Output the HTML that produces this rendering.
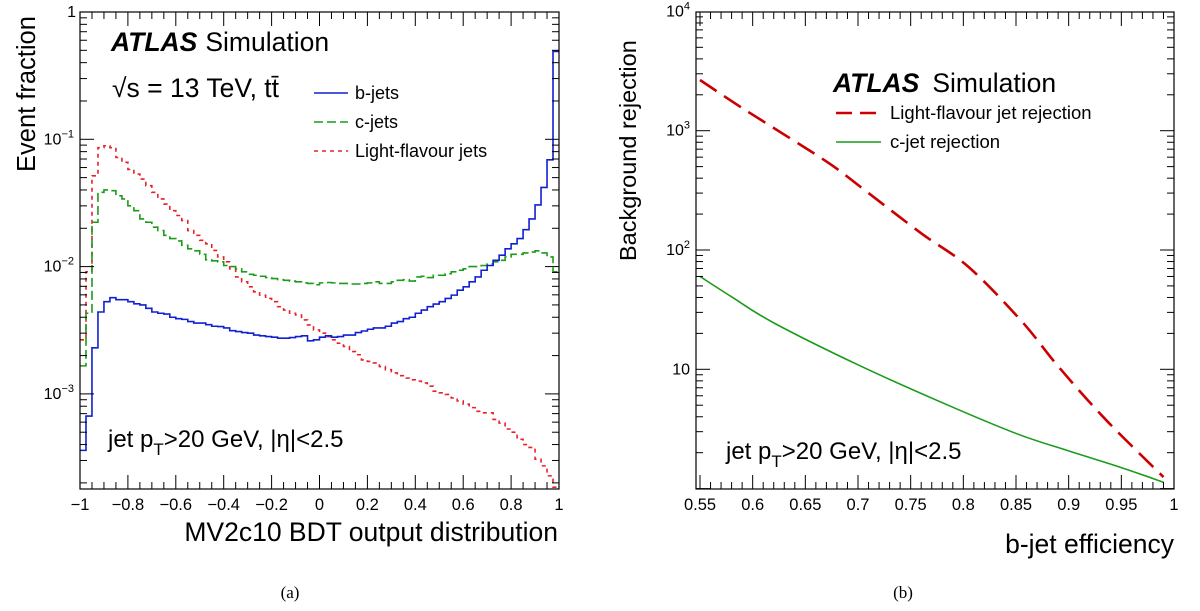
<!DOCTYPE html>
<html><head><meta charset="utf-8"><style>
body{margin:0;background:#fff}
svg{display:block;font-family:"Liberation Sans",sans-serif}
</style></head><body>
<svg id="s" width="1200" height="611" viewBox="0 0 1200 611">
<g id="L"></g>
<g id="R"></g>
</svg>
<script>
// Left: 80 bins from -1 to 1
const binLo = -1, binW = 0.025;
const bJets = [3.6e-4,6.7e-4,2.3e-3,4.4e-3,5.3e-3,5.7e-3,5.5e-3,5.5e-3,5.3e-3,5.1e-3,5.0e-3,4.7e-3,4.4e-3,4.3e-3,4.24e-3,4.0e-3,3.9e-3,3.85e-3,3.7e-3,3.6e-3,3.6e-3,3.5e-3,3.4e-3,3.38e-3,3.3e-3,3.14e-3,3.09e-3,3.03e-3,3.0e-3,2.9e-3,2.86e-3,2.82e-3,2.79e-3,2.74e-3,2.74e-3,2.77e-3,2.82e-3,2.86e-3,2.61e-3,2.66e-3,2.79e-3,2.86e-3,2.79e-3,2.82e-3,2.9e-3,2.9e-3,3.03e-3,3.12e-3,3.22e-3,3.3e-3,3.3e-3,3.4e-3,3.6e-3,3.7e-3,3.9e-3,4.0e-3,4.3e-3,4.56e-3,4.84e-3,5.08e-3,5.3e-3,5.62e-3,5.97e-3,6.53e-3,6.94e-3,7.59e-3,8.3e-3,9.36e-3,1.02e-2,1.12e-2,1.23e-2,1.38e-2,1.51e-2,1.66e-2,1.95e-2,2.37e-2,3.05e-2,4.19e-2,6.9e-2,0.49];
const cJets = [1.66e-3,4.3e-3,2.23e-2,3.83e-2,4.0e-2,3.95e-2,3.6e-2,3.4e-2,3.0e-2,2.75e-2,2.37e-2,2.23e-2,2.04e-2,1.92e-2,1.76e-2,1.66e-2,1.59e-2,1.47e-2,1.38e-2,1.33e-2,1.25e-2,1.13e-2,1.11e-2,1.09e-2,1.02e-2,1.0e-2,9.6e-3,9.1e-3,8.7e-3,8.55e-3,8.4e-3,8.2e-3,8.05e-3,7.9e-3,7.8e-3,7.7e-3,7.6e-3,7.45e-3,7.37e-3,7.2e-3,7.45e-3,7.5e-3,7.45e-3,7.37e-3,7.37e-3,7.3e-3,7.3e-3,7.37e-3,7.45e-3,7.6e-3,7.37e-3,7.37e-3,7.6e-3,7.8e-3,7.9e-3,7.7e-3,8.3e-3,8.4e-3,8.2e-3,8.55e-3,8.55e-3,8.8e-3,9.1e-3,9.36e-3,9.6e-3,1.0e-2,1.0e-2,1.02e-2,1.05e-2,1.09e-2,1.12e-2,1.19e-2,1.25e-2,1.25e-2,1.28e-2,1.3e-2,1.33e-2,1.28e-2,1.19e-2,9.1e-3];
const lightJets = [2.66e-3,9.1e-3,5.17e-2,8.6e-2,8.9e-2,8.6e-2,7.2e-2,6.6e-2,5.8e-2,5.33e-2,4.87e-2,4.32e-2,3.83e-2,3.4e-2,3.1e-2,2.75e-2,2.52e-2,2.3e-2,1.92e-2,1.76e-2,1.61e-2,1.51e-2,1.34e-2,1.19e-2,1.09e-2,9.6e-3,8.3e-3,7.6e-3,6.94e-3,6.34e-3,5.97e-3,5.62e-3,5.3e-3,4.84e-3,4.56e-3,4.3e-3,4.17e-3,3.81e-3,3.48e-3,3.18e-3,3.0e-3,2.82e-3,2.66e-3,2.5e-3,2.36e-3,2.15e-3,2.03e-3,1.85e-3,1.8e-3,1.75e-3,1.64e-3,1.55e-3,1.46e-3,1.39e-3,1.33e-3,1.29e-3,1.26e-3,1.22e-3,1.15e-3,1.05e-3,1.02e-3,9.9e-4,9.3e-4,8.8e-4,8.3e-4,7.8e-4,7.3e-4,7.1e-4,7.1e-4,6.3e-4,5.9e-4,5.3e-4,5.0e-4,4.4e-4,4.0e-4,3.8e-4,3.07e-4,2.72e-4,2.27e-4,1.85e-4];
const leftXTicks = ["−1","−0.8","−0.6","−0.4","−0.2","0","0.2","0.4","0.6","0.8","1"];
// Right
const lightEffs = [0.55,0.59,0.635,0.675,0.71,0.76,0.805,0.855,0.89,0.935,0.99];
const lightRej = [2660,1550,870,515,300,138,72,25.5,10.6,3.8,1.25];
const cEffs = [0.55,0.58,0.62,0.70,0.78,0.85,0.90,0.95,0.99];
const cRej = [60,40.5,24.5,10.9,5.25,2.9,2.07,1.5,1.13];
const rightXTicks = ["0.55","0.6","0.65","0.7","0.75","0.8","0.85","0.9","0.95","1"];

const NS="http://www.w3.org/2000/svg";
function mk(p,tag,at,txt){const e=document.createElementNS(NS,tag);for(const k in at)e.setAttribute(k,at[k]);if(txt!==undefined)e.textContent=txt;p.appendChild(e);return e;}

// ---- Left panel
const L=document.getElementById('L');
const lx0=80,lx1=559,ly0=12,ly1=489,lDec=127.3;
const lX=v=>lx0+(v+1)/2*(lx1-lx0);
const lY=v=>ly0+(0-Math.log10(v))*lDec;
function hist(arr,col,dash,name){
  let d='';
  for(let i=0;i<arr.length;i++){const xa=lX(binLo+i*binW),xb=lX(binLo+(i+1)*binW),y=Math.min(ly1,lY(arr[i]));d+=(i===0?'M':'L')+xa+' '+y+'L'+xb+' '+y;}
  const p=mk(L,'path',{d:d,fill:'none',stroke:col,'stroke-width':1.6,'stroke-dasharray':dash});
  
  
}
hist(lightJets,'#e8202a','4 4','light-jets-histogram');
hist(cJets,'#1a9c1a','9 4','c-jets-histogram');
hist(bJets,'#1020d0','none','b-jets-histogram');
const lf=mk(L,'rect',{x:lx0,y:ly0,width:lx1-lx0,height:ly1-ly0,fill:'none',stroke:'#000','stroke-width':1.2});


for(let k=0;k<=40;k++){const v=-1+k*0.05,x=lX(v),big=k%4===0,len=big?14:7;
  mk(L,'line',{x1:x,y1:ly1,x2:x,y2:ly1-len,stroke:'#000'});mk(L,'line',{x1:x,y1:ly0,x2:x,y2:ly0+len,stroke:'#000'});}
leftXTicks.forEach((t,i)=>{const e=mk(L,'text',{x:lX(-1+i*0.2),y:510,'font-size':16.5,'text-anchor':'middle'},t);
  
  });
for(let dcd=-4;dcd<=0;dcd++)for(let m=1;m<10;m++){const v=m*Math.pow(10,dcd);const y=lY(v);if(y<ly0-0.5||y>ly1+0.5)continue;const len=m===1?14:7;
  mk(L,'line',{x1:lx0,y1:y,x2:lx0+len,y2:y,stroke:'#000'});mk(L,'line',{x1:lx1,y1:y,x2:lx1-len,y2:y,stroke:'#000'});}
[0,-1,-2,-3].forEach(e=>{const y=lY(Math.pow(10,e));const t=mk(L,'text',{x:e===0?76:74,y:y+5,'font-size':16,'text-anchor':'end'});
  
  
  if(e===0)t.textContent='1';else{t.textContent='10';mk(t,'tspan',{dy:-7,'font-size':11},String(e).replace('-','−'));}});
mk(L,'text',{x:0,y:0,transform:'translate(35,172) rotate(-90)','font-size':25.5,},'Event fraction');
mk(L,'text',{x:558,y:541,'font-size':26.5,'text-anchor':'end',},'MV2c10 BDT output distribution');
const a1=mk(L,'text',{x:111,y:51,'font-size':26.5,});
mk(a1,'tspan',{'font-weight':'bold','font-style':'italic'},'ATLAS');mk(a1,'tspan',{dx:8},'Simulation');
mk(L,'text',{x:112,y:97,'font-size':26.5,},'√s = 13 TeV, tt̄');
[['#1020d0','none','b-jets',93],['#1a9c1a','9 4','c-jets',122],['#e8202a','4 4','Light-flavour jets',151]].forEach(([c,d,t,y])=>{
  mk(L,'line',{x1:314,y1:y,x2:348,y2:y,stroke:c,'stroke-width':1.6,'stroke-dasharray':d});
  mk(L,'text',{x:355,y:y+6,'font-size':18,},t);});
const j1=mk(L,'text',{x:108,y:447,'font-size':24,});
mk(j1,'tspan',{},'jet p');mk(j1,'tspan',{dy:8,'font-size':17},'T');mk(j1,'tspan',{dy:-8},'>20 GeV, |η|<2.5');

// ---- Right panel
const R=document.getElementById('R');
const rx0=696,rx1=1174,ry0=12,ry1=489;
const rX=v=>700+(v-0.55)*(1174-700)/0.45;
const rY=v=>369.3-119.3*(Math.log10(v)-1);
function curve(xs,ys,col,dash,w,name){
  const P=xs.map((x,i)=>[rX(x),rY(ys[i])]);
  let d='M'+P[0][0]+' '+P[0][1];
  for(let i=0;i<P.length-1;i++){const p0=P[Math.max(0,i-1)],p1=P[i],p2=P[i+1],p3=P[Math.min(P.length-1,i+2)];
    d+='C'+(p1[0]+(p2[0]-p0[0])/6)+' '+(p1[1]+(p2[1]-p0[1])/6)+' '+(p2[0]-(p3[0]-p1[0])/6)+' '+(p2[1]-(p3[1]-p1[1])/6)+' '+p2[0]+' '+p2[1];}
  const p=mk(R,'path',{d:d,fill:'none',stroke:col,'stroke-width':w,'stroke-dasharray':dash,'stroke-linejoin':'round'});
  
  
}
curve(lightEffs,lightRej,'#cc0000','20 9',2.6,'light-rejection-curve');
curve(cEffs,cRej,'#1a9c1a','none',1.6,'c-rejection-curve');
const rf=mk(R,'rect',{x:rx0,y:ry0,width:rx1-rx0,height:ry1-ry0,fill:'none',stroke:'#000','stroke-width':1.2});


for(let k=0;k<=45;k++){const v=0.55+k*0.01,x=rX(v),big=k%5===0,len=big?14:7;
  mk(R,'line',{x1:x,y1:ry1,x2:x,y2:ry1-len,stroke:'#000'});mk(R,'line',{x1:x,y1:ry0,x2:x,y2:ry0+len,stroke:'#000'});}
rightXTicks.forEach((t,i)=>{const e=mk(R,'text',{x:rX(0.55+i*0.05),y:510,'font-size':16.5,'text-anchor':'middle'},t);
  
  });
for(let dcd=0;dcd<=3;dcd++)for(let m=1;m<10;m++){const v=m*Math.pow(10,dcd);const y=rY(v);if(y<ry0-0.5||y>ry1+0.5)continue;const len=m===1?14:7;
  mk(R,'line',{x1:rx0,y1:y,x2:rx0+len,y2:y,stroke:'#000'});mk(R,'line',{x1:rx1,y1:y,x2:rx1-len,y2:y,stroke:'#000'});}
[1,2,3,4].forEach(e=>{const y=rY(Math.pow(10,e));const t=mk(R,'text',{x:690,y:y+5,'font-size':16,'text-anchor':'end'});
  
  
  t.textContent='10';if(e>1)mk(t,'tspan',{dy:-7,'font-size':11},String(e));});
mk(R,'text',{x:0,y:0,transform:'translate(636,261) rotate(-90)','font-size':23.5,},'Background rejection');
mk(R,'text',{x:1174,y:553,'font-size':26.5,'text-anchor':'end',},'b-jet efficiency');
const a2=mk(R,'text',{x:833,y:92,'font-size':26.5,});
mk(a2,'tspan',{'font-weight':'bold','font-style':'italic'},'ATLAS');mk(a2,'tspan',{dx:13},'Simulation');
[['#cc0000','16 8',2.6,'Light-flavour jet rejection',113],['#1a9c1a','none',1.6,'c-jet rejection',142]].forEach(([c,d,w,t,y])=>{
  mk(R,'line',{x1:836,y1:y,x2:881,y2:y,stroke:c,'stroke-width':w,'stroke-dasharray':d});
  mk(R,'text',{x:890,y:y+6,'font-size':18.5,},t);});
const j2=mk(R,'text',{x:726,y:459,'font-size':24,});
mk(j2,'tspan',{},'jet p');mk(j2,'tspan',{dy:8,'font-size':17},'T');mk(j2,'tspan',{dy:-8},'>20 GeV, |η|<2.5');

mk(document.getElementById('s'),'text',{x:290,y:598,'font-size':17,'text-anchor':'middle','font-family':'Liberation Serif, serif',},'(a)');
mk(document.getElementById('s'),'text',{x:903,y:598,'font-size':17,'text-anchor':'middle','font-family':'Liberation Serif, serif',},'(b)');
</script>
</body></html>
